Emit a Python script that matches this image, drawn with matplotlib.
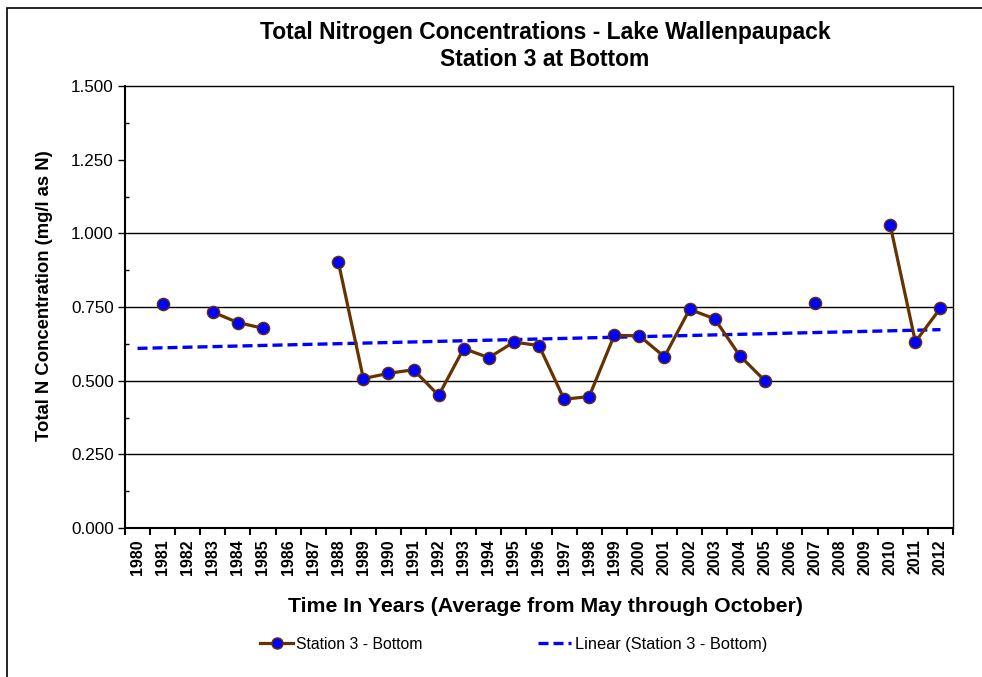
import numpy as np
import matplotlib
matplotlib.use("Agg")
import matplotlib.pyplot as plt
from matplotlib.lines import Line2D
from matplotlib.patches import Rectangle

years = list(range(1980, 2013))
values = [np.nan, 0.759, np.nan, 0.733, 0.697, 0.678, np.nan, np.nan, 0.904,
          0.507, 0.525, 0.537, 0.450, 0.609, 0.578, 0.631, 0.619, 0.437, 0.446,
          0.654, 0.652, 0.581, 0.742, 0.710, 0.585, 0.500, np.nan, 0.765,
          np.nan, np.nan, 1.027, 0.632, 0.746]
year_labels = [str(y) for y in years]
yticks = [0.0, 0.25, 0.5, 0.75, 1.0, 1.25, 1.5]
grid_vals = [0.25, 0.5, 0.75, 1.0]

plt.rcParams['font.family'] = ['Liberation Sans', 'DejaVu Sans']

W, H = 982, 677
fig = plt.figure(figsize=(W / 100, H / 100), dpi=100)
ax = fig.add_axes([125 / W, 1 - 528 / H, (953 - 125) / W, (528 - 86) / H])

x = np.arange(1, len(years) + 1)
v = np.array(values, dtype=float)

for g in grid_vals:
    ax.axhline(g, color='black', lw=1.0, zorder=1)

# trend line (Excel linear trendline on category index)
m = ~np.isnan(v)
k, b = np.polyfit(x[m], v[m], 1)
xt = np.array([x[0], x[-1]])
ax.plot(xt, k * xt + b, color='#0000FF', lw=2.4, ls=(0, (3, 1.5)), zorder=2)

ax.plot(x, v, color='#663300', lw=2.3, marker='o', markersize=8.8,
        markerfacecolor='#0000FF', markeredgecolor='#663300',
        markeredgewidth=1.0, zorder=3)

ax.set_xlim(0.5, len(years) + 0.5)
ax.set_ylim(0, 1.5)
ax.set_yticks(yticks)
ax.set_yticklabels([f"{t:.3f}" for t in yticks], fontsize=12.3)
ax.set_yticks(np.arange(0.125, 1.5, 0.25), minor=True)
ax.tick_params(axis='y', which='major', direction='out', length=5, width=1, pad=3)
ax.tick_params(axis='y', which='minor', direction='in', length=3, width=1)

ax.set_xticks(np.arange(0.5, len(years) + 1, 1.0))
ax.set_xticklabels([])
ax.set_xticks(x, minor=True)
ax.set_xticklabels(year_labels, minor=True, rotation=90, fontsize=11.5,
                   fontweight='bold')
ax.tick_params(axis='x', which='major', direction='out', length=5, width=1.5)
ax.tick_params(axis='x', which='minor', length=0, pad=8)

for s in ax.spines.values():
    s.set_color('black')
    s.set_linewidth(1.0)
ax.spines['left'].set_linewidth(1.5)
ax.spines['bottom'].set_linewidth(1.5)

fig.text(545 / W, 1 - 32 / H, "Total Nitrogen Concentrations - Lake Wallenpaupack",
         ha='center', va='center', fontsize=16.5, fontweight='bold')
fig.text(545 / W, 1 - 60 / H, "Station 3 at Bottom",
         ha='center', va='center', fontsize=16.5, fontweight='bold')
fig.text(45 / W, 1 - 296 / H, "Total N Concentration (mg/l as N)",
         ha='center', va='center', rotation=90, fontsize=13.3, fontweight='bold')
fig.text(545 / W, 1 - 606 / H, "Time In Years (Average from May through October)",
         ha='center', va='center', fontsize=15.3, fontweight='bold')

# legend
ly = 1 - 643 / H
fig.add_artist(Line2D([260 / W, 293 / W], [ly, ly], color='#663300', lw=2.3))
fig.add_artist(Line2D([276.5 / W], [ly], marker='o', markersize=8,
                      markerfacecolor='#0000FF', markeredgecolor='#663300',
                      markeredgewidth=1.0, lw=0))
fig.text(296 / W, ly, "Station 3 - Bottom", ha='left', va='center_baseline',
         fontsize=11.3)
fig.add_artist(Line2D([538 / W, 571 / W], [ly, ly], color='#0000FF', lw=2.4,
                      ls=(0, (3, 1.5))))
fig.text(575 / W, ly, "Linear (Station 3 - Bottom)", ha='left',
         va='center_baseline', fontsize=11.8)

# outer chart border
fig.add_artist(Rectangle((7 / W, -0.1), 1.2, 1 - 8 / H + 0.1, fill=False,
                         edgecolor='black', lw=1.2, transform=fig.transFigure))

fig.savefig("out.png", dpi=100, facecolor='white')
